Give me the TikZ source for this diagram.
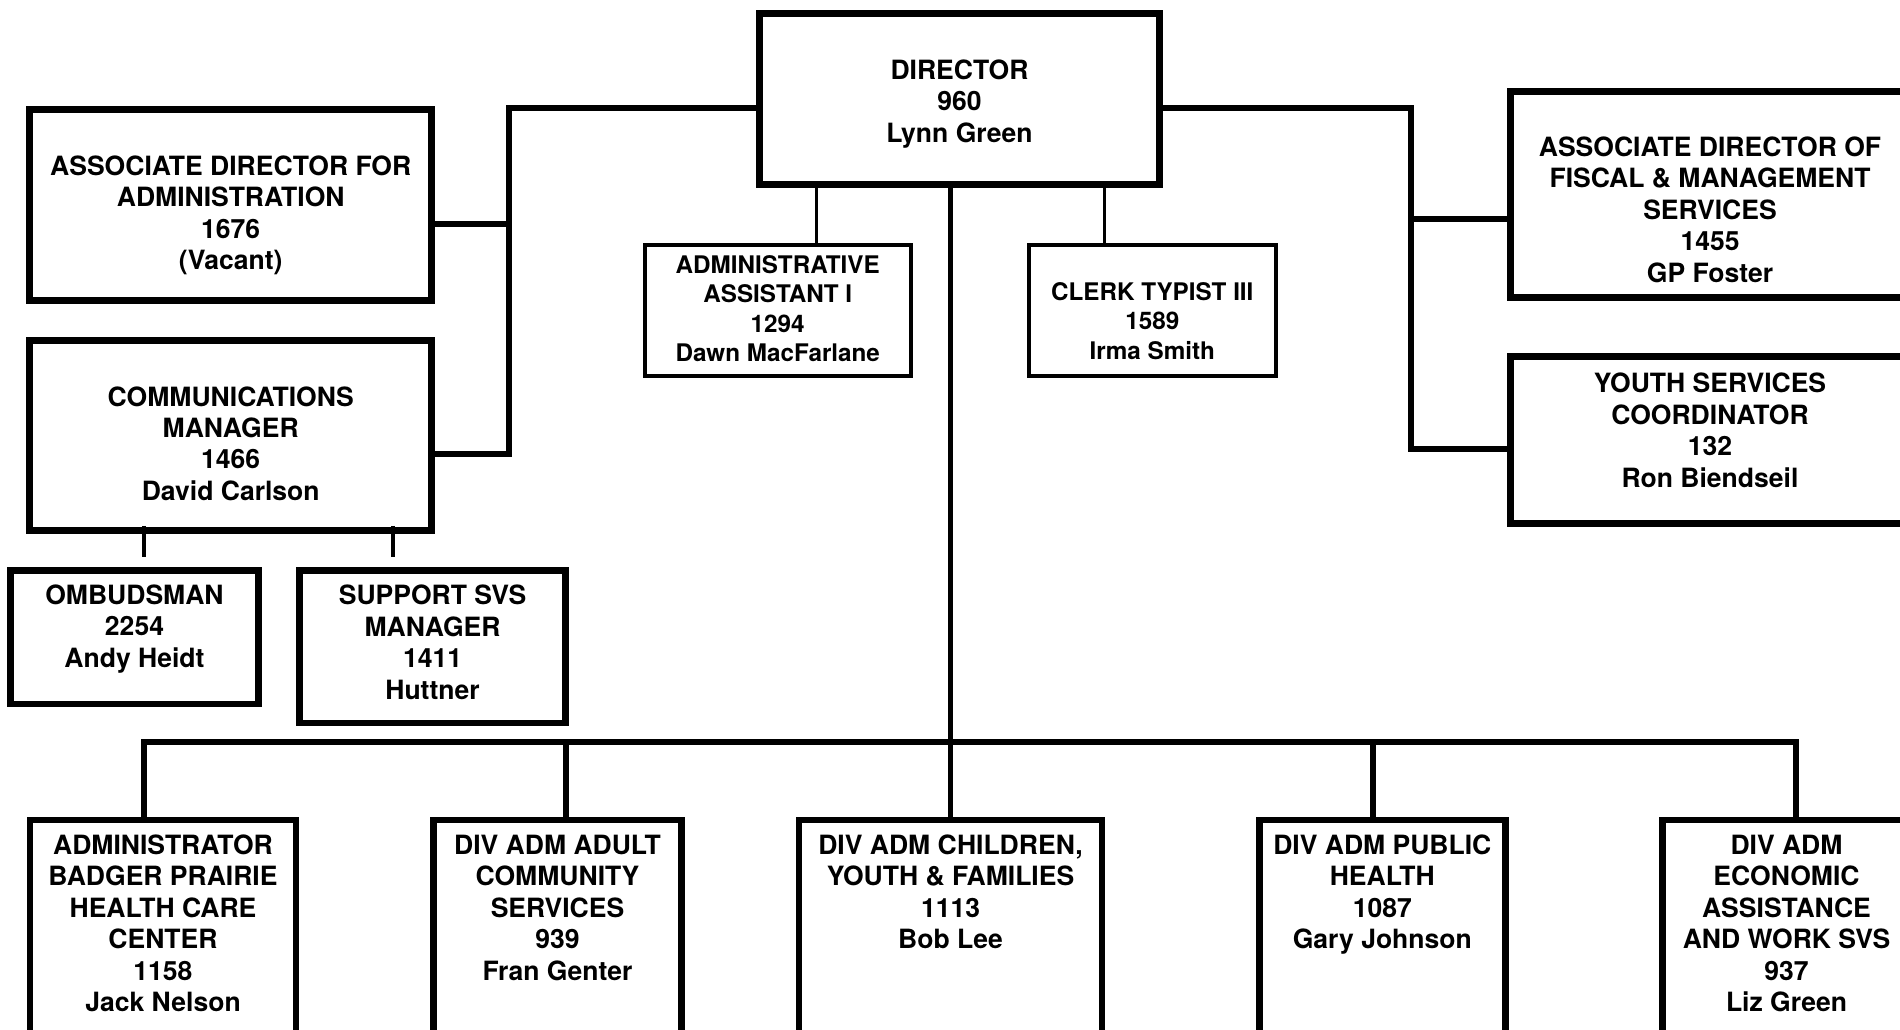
\documentclass[tikz,border=0pt]{standalone}
\usepackage{fontspec}
\setmainfont{TeX Gyre Heros}
\usetikzlibrary{positioning}

\tikzset{
  bigbox/.style={draw, line width=3.7pt, inner sep=0pt},
  smallbox/.style={draw, line width=2.3pt, inner sep=0pt},
  bigtext/.style={align=center, inner sep=0pt, font=\fontsize{15.1}{17.9}\selectfont\bfseries},
  smalltext/.style={align=center, inner sep=0pt, font=\fontsize{13.8}{16.8}\selectfont\bfseries},
  conn/.style={line width=3.4pt},
  midconn/.style={line width=2.3pt},
  thinconn/.style={line width=1.2pt}
}

\begin{document}
\begin{tikzpicture}[x=0.02cm, y=-0.02cm]
  \useasboundingbox (0,0) rectangle (1900,1029);
  \clip (0,0) rectangle (1900,1029);

  % Director
  \node[bigbox, minimum width=8.01cm, minimum height=3.43cm] (dir) at (959.5,99) {};
  \node[bigtext] (dir-l) at (959.5,104) {DIRECTOR\\960\\Lynn Green};

  % Left side
  \node[bigbox, minimum width=8.04cm, minimum height=3.83cm] (assocadmin) at (230.7,205) {};
  \node[bigtext] (assocadmin-l) at (230.7,215.5) {ASSOCIATE DIRECTOR FOR\\ADMINISTRATION\\1676\\(Vacant)};
  \node[bigbox, minimum width=8.04cm, minimum height=3.81cm] (comm) at (230.7,435.5) {};
  \node[bigtext] (comm-l) at (230.7,443.5) {COMMUNICATIONS\\MANAGER\\1466\\David Carlson};
  \node[bigbox, minimum width=4.97cm, minimum height=2.67cm] (ombud) at (134.5,637) {};
  \node[bigtext] (ombud-l) at (134.5,629) {OMBUDSMAN\\2254\\Andy Heidt};
  \node[bigbox, minimum width=5.33cm, minimum height=3.05cm] (support) at (432.5,646.5) {};
  \node[bigtext] (support-l) at (432.5,642.2) {SUPPORT SVS\\MANAGER\\1411\\Huttner};

  % Staff under director
  \node[smallbox, minimum width=5.32cm, minimum height=2.63cm] (adminasst) at (777.7,310.5) {};
  \node[smalltext] (adminasst-l) at (777.7,308.4) {ADMINISTRATIVE\\ASSISTANT I\\1294\\Dawn MacFarlane};
  \node[smallbox, minimum width=4.94cm, minimum height=2.63cm] (clerk) at (1152.3,310.5) {};
  \node[smalltext] (clerk-l) at (1152.3,321) {CLERK TYPIST III\\1589\\Irma Smith};

  % Right side
  \node[bigbox, minimum width=7.99cm, minimum height=4.13cm] (fiscal) at (1710,194.5) {};
  \node[bigtext] (fiscal-l) at (1710,209.6) {ASSOCIATE DIRECTOR OF\\FISCAL \& MANAGEMENT\\SERVICES\\1455\\GP Foster};
  \node[bigbox, minimum width=7.99cm, minimum height=3.35cm] (youth) at (1710,440) {};
  \node[bigtext] (youth-l) at (1710,430.2) {YOUTH SERVICES\\COORDINATOR\\132\\Ron Biendseil};

  % Divisions
  \node[bigbox, minimum width=5.33cm, minimum height=4.8cm] (badger) at (163,940) {};
  \node[bigtext] (badger-l) at (163,923.3) {ADMINISTRATOR\\BADGER PRAIRIE\\HEALTH CARE\\CENTER\\1158\\Jack Nelson};
  \node[bigbox, minimum width=4.97cm, minimum height=4.8cm] (adult) at (557.5,940) {};
  \node[bigtext] (adult-l) at (557.5,907.6) {DIV ADM ADULT\\COMMUNITY\\SERVICES\\939\\Fran Genter};
  \node[bigbox, minimum width=6.07cm, minimum height=4.8cm] (children) at (950.5,940) {};
  \node[bigtext] (children-l) at (950.5,891.8) {DIV ADM CHILDREN,\\YOUTH \& FAMILIES\\1113\\Bob Lee};
  \node[bigbox, minimum width=4.92cm, minimum height=4.8cm] (health) at (1382.3,940) {};
  \node[bigtext] (health-l) at (1382.3,894.5) {DIV ADM PUBLIC\\HEALTH\\1087\\Gary Johnson};
  \node[bigbox, minimum width=4.97cm, minimum height=4.8cm] (econ) at (1786.5,940) {};
  \node[bigtext] (econ-l) at (1786.5,923.3) {DIV ADM\\ECONOMIC\\ASSISTANCE\\AND WORK SVS\\937\\Liz Green};

  % Left trunk
  \coordinate (ltop) at (509,108);
  \coordinate (lmid) at (509,224);
  \coordinate (lbot) at (509,454);
  \draw[conn] (dir.west |- ltop) -- (ltop) -- (lbot) -- (comm.east |- lbot);
  \draw[conn] (assocadmin.east |- lmid) -- (lmid);
  \draw[midconn] ([yshift=0.16cm]comm.south -| 144,0) -- ([yshift=0.2cm]ombud.north -| 144,0);
  \draw[midconn] ([yshift=0.16cm]comm.south -| 393,0) -- ([yshift=0.2cm]support.north -| 393,0);

  % Right trunk
  \coordinate (rtop) at (1411,108);
  \coordinate (rmid) at (1411,219);
  \coordinate (rbot) at (1411,449);
  \draw[conn] (dir.east |- rtop) -- (rtop) -- (rbot) -- (youth.west |- rbot);
  \draw[conn] (rmid) -- (fiscal.west |- rmid);

  % Staff stubs
  \draw[thinconn] (dir.south -| 816.5,0) -- (adminasst.north -| 816.5,0);
  \draw[thinconn] (dir.south -| 1104.5,0) -- (clerk.north -| 1104.5,0);

  % Division bus
  \coordinate (busl) at (144,742);
  \coordinate (busr) at (1795.7,742);
  \draw[conn] (dir.south -| children.north) -- (children.north);
  \draw[conn] (badger.north -| busl) -- (busl) -- (busr) -- (econ.north -| busr);
  \foreach \n/\x in {adult/566, health/1373}
    \draw[conn] (\x,742) -- (\n.north -| \x,0);
\end{tikzpicture}
\end{document}
